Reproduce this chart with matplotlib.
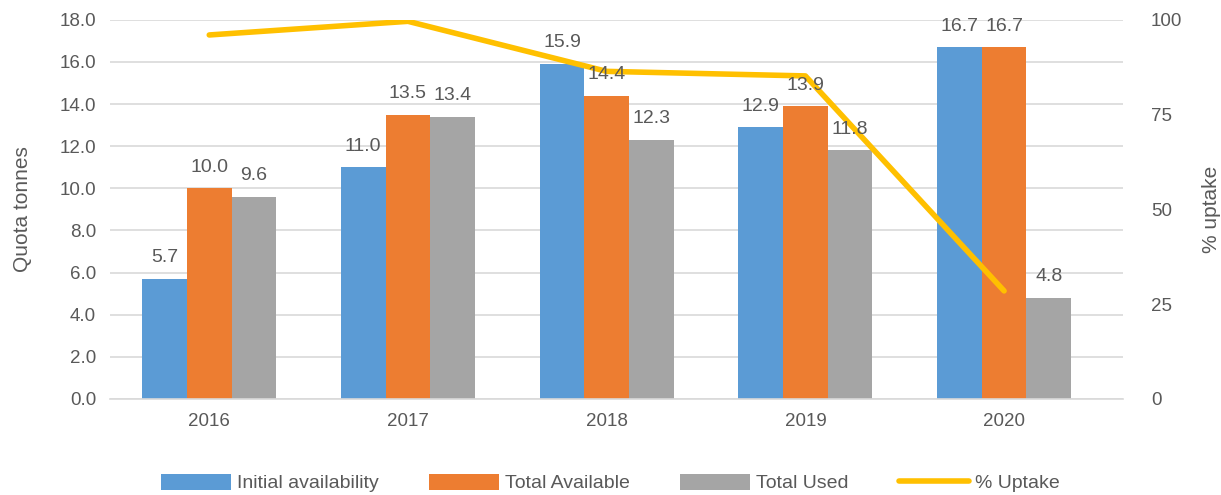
import numpy as np
import matplotlib
matplotlib.use("Agg")
import matplotlib.pyplot as plt

plt.rcParams['font.family'] = ['Liberation Sans', 'DejaVu Sans']

# Data
years = ['2016', '2017', '2018', '2019', '2020']
initial = [5.7, 11.0, 15.9, 12.9, 16.7]
total_available = [10.0, 13.5, 14.4, 13.9, 16.7]
total_used = [9.6, 13.4, 12.3, 11.8, 4.8]
uptake = [96.0, 99.6, 86.4, 85.2, 28.5]

grey_text = '#595959'
x = np.arange(len(years))
w = 0.225

fig = plt.figure(figsize=(12.21, 4.95), dpi=100)
ax = fig.add_axes([0.09, 0.194, 0.83, 0.766])

series = [
    (initial, '#5B9BD5', 'Initial availability', -w),
    (total_available, '#ED7D31', 'Total Available', 0),
    (total_used, '#A5A5A5', 'Total Used', w),
]
handles = []
for vals, col, lab, off in series:
    b = ax.bar(x + off, vals, w, color=col, label=lab, zorder=2)
    handles.append(b)

ax.set_ylim(0, 18)
ax.set_yticks(np.arange(0, 18.1, 2))
ax.set_yticklabels([f'{t:.1f}' for t in np.arange(0, 18.1, 2)])
ax.set_xlim(-0.5, 4.6)
ax.set_xticks(x)
ax.set_xticklabels(years)
ax.grid(axis='y', color='#D9D9D9', linewidth=1.2, zorder=0)
for s in ['top', 'right', 'left']:
    ax.spines[s].set_visible(False)
ax.spines['bottom'].set_color('#D9D9D9')
ax.spines['bottom'].set_linewidth(1.2)
ax.tick_params(axis='both', length=0, labelsize=13.5, colors=grey_text, pad=10)
ax.set_ylabel('Quota tonnes', fontsize=15, color=grey_text, labelpad=20)

ax2 = ax.twinx()
line, = ax2.plot(x, uptake, color='#FFC000', linewidth=4,
                 solid_capstyle='round', label='% Uptake', zorder=4)
ax2.set_ylim(0, 100)
ax2.set_yticks([0, 25, 50, 75, 100])
for s in ['top', 'right', 'left', 'bottom']:
    ax2.spines[s].set_visible(False)
ax2.tick_params(axis='y', length=0, labelsize=13.5, colors=grey_text, pad=20)
ax2.set_ylabel('% uptake', fontsize=15, color=grey_text, labelpad=14)

# value labels on top of everything
for vals, col, lab, off in series:
    for xi, v in zip(x + off, vals):
        ax2.text(xi, (v + 0.6) / 18 * 100, f'{v:.1f}', ha='center', va='bottom',
                 fontsize=14, color=grey_text, zorder=6)

handles.append(line)
fig.legend(handles, [h.get_label() for h in handles], loc='lower center',
           bbox_to_anchor=(0.5, -0.03), ncol=4, frameon=False, fontsize=14,
           labelcolor=grey_text, handlelength=3.6, handleheight=0.9,
           columnspacing=2.6, handletextpad=0.3)

fig.savefig('out.png', dpi=100)
